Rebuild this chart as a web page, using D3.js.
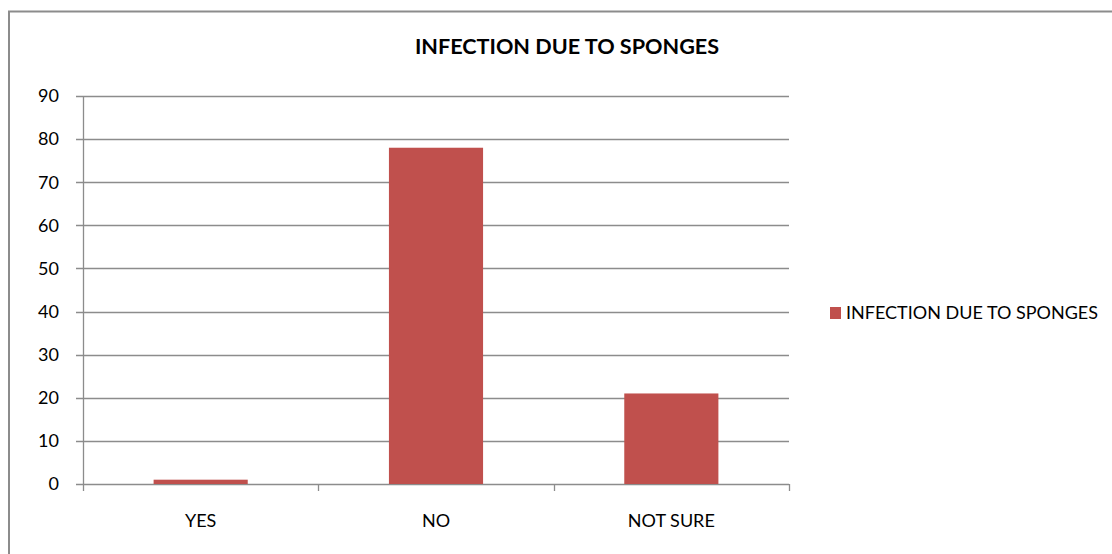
<!DOCTYPE html>
<html><head><meta charset="utf-8">
<script src="https://cdn.jsdelivr.net/npm/d3@7"></script>
<style>body{margin:0;background:#fff}svg{display:block}text{font-family:Lato,"Open Sans",sans-serif;fill:#000}</style>
</head><body><svg id="c" width="1112" height="554"></svg>
<script>
const categories = ["YES", "NO", "NOT SURE"];
const values = [1, 78, 21];
const seriesName = "INFECTION DUE TO SPONGES";
const yTicks = [0, 10, 20, 30, 40, 50, 60, 70, 80, 90];

(function () {
const svg = d3.select("#c");
svg.append("rect").attr("x", 9).attr("y", 11.5).attr("width", 1120).attr("height", 560)
  .attr("fill", "none").attr("stroke", "#8c8c8c").attr("stroke-width", 2);

const pLeft = 83, pRight = 789, pTop = 96, pBottom = 484;
const x = d3.scaleBand().domain(categories).range([pLeft, pRight]).paddingInner(0.6).paddingOuter(0.3);
const xb = d3.scaleBand().domain(categories).range([pLeft, pRight]);
const y = d3.scaleLinear().domain([0, 90]).range([pBottom, pTop]);

svg.append("g").selectAll("line").data(yTicks).join("line")
  .attr("x1", pLeft - 7).attr("x2", pRight).attr("y1", d => Math.round(y(d)) + 0.5).attr("y2", d => Math.round(y(d)) + 0.5)
  .attr("stroke", "#8c8c8c").attr("stroke-width", 1.3);
svg.append("line").attr("x1", pLeft + 0.5).attr("x2", pLeft + 0.5).attr("y1", pTop).attr("y2", pBottom)
  .attr("stroke", "#8c8c8c").attr("stroke-width", 1.3);
const xt = [pLeft, ...categories.map(c => xb(c) + xb.bandwidth())];
svg.append("g").selectAll("line").data(xt).join("line")
  .attr("x1", d => Math.round(d) + 0.5).attr("x2", d => Math.round(d) + 0.5).attr("y1", pBottom).attr("y2", pBottom + 7)
  .attr("stroke", "#8c8c8c").attr("stroke-width", 1.3);

svg.append("g").selectAll("text").data(yTicks).join("text")
  .attr("x", 59).attr("y", d => y(d)).attr("dy", "0.35em").attr("text-anchor", "end")
  .attr("font-size", 18).text(d => d);

svg.append("g").selectAll("rect").data(values).join("rect")
  .attr("x", (d, i) => x(categories[i])).attr("width", x.bandwidth())
  .attr("y", d => y(d)).attr("height", d => y(0) - y(d))
  .attr("fill", "#c0504d");

svg.append("g").selectAll("text").data(categories).join("text")
  .attr("x", d => xb(d) + xb.bandwidth() / 2).attr("y", 527).attr("text-anchor", "middle")
  .attr("font-size", 18).text(d => d);

svg.append("text").attr("x", 567).attr("y", 54).attr("text-anchor", "middle")
  .attr("font-size", 21.6).attr("font-weight", "bold").text(seriesName);

svg.append("rect").attr("x", 830).attr("y", 307).attr("width", 11).attr("height", 12).attr("fill", "#c0504d");
svg.append("text").attr("x", 846).attr("y", 313).attr("dy", "0.35em").attr("font-size", 18).text(seriesName);
})();
</script></body></html>
